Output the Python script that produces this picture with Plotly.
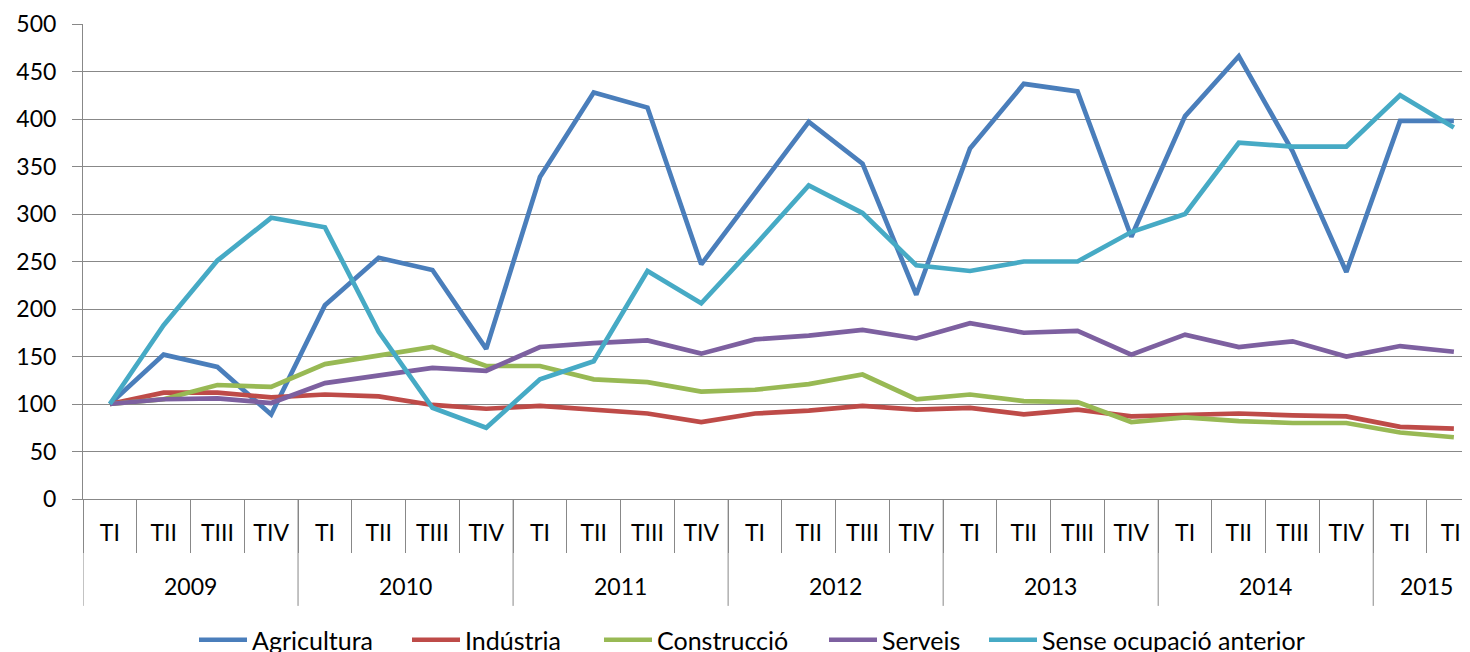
import plotly.graph_objects as go

quarters = ["TI", "TII", "TIII", "TIV"] * 6 + ["TI", "TII"]
years = ["2009", "2010", "2011", "2012", "2013", "2014", "2015"]

agricultura = [100, 152, 139, 89, 204, 254, 241, 158, 339, 428, 412, 247, 322, 397, 353, 215,
               369, 437, 429, 276, 403, 466, 366, 239, 398, 398]
industria = [100, 112, 112, 107, 110, 108, 99, 95, 98, 94, 90, 81, 90, 93, 98, 94,
             96, 89, 94, 87, 88, 90, 88, 87, 76, 74]
construccio = [100, 105, 120, 118, 142, 151, 160, 140, 140, 126, 123, 113, 115, 121, 131, 105,
               110, 103, 102, 81, 86, 82, 80, 80, 70, 65]
serveis = [100, 105, 106, 101, 122, 130, 138, 135, 160, 164, 167, 153, 168, 172, 178, 169,
           185, 175, 177, 152, 173, 160, 166, 150, 161, 155]
sense = [100, 183, 251, 296, 286, 176, 96, 75, 126, 145, 240, 206, 267, 330, 301, 246,
         240, 250, 250, 281, 300, 375, 371, 371, 425, 391]

series = [
    ("Agricultura", agricultura, "#4A7EBB"),
    ("Indústria", industria, "#BE4B48"),
    ("Construcció", construccio, "#98B954"),
    ("Serveis", serveis, "#7D60A0"),
    ("Sense ocupació anterior", sense, "#46AAC5"),
]
# left edge (page px) of each legend line sample
legend_starts = [204, 417, 609, 834, 994]

FONT = "Lato"
GRID = "#888888"
TICK_SIZE = 23
PLOT_L, PLOT_R, PLOT_T, PLOT_B = 83, 1470, 24, 499   # page pixels
BODY = 8  # default page margin of the html body
idx = list(range(len(quarters)))
plot_w = PLOT_R - PLOT_L
plot_h = PLOT_B - PLOT_T

fig = go.Figure()
legends = {}
for n, (name, vals, col) in enumerate(series):
    lg = "legend" if n == 0 else f"legend{n + 1}"
    fig.add_trace(go.Scatter(x=idx, y=vals, mode="lines", name=name, legend=lg,
                             line=dict(color=col, width=4.7)))
    legends[lg] = dict(orientation="h", x=(legend_starts[n] - 10 - PLOT_L) / plot_w,
                       xanchor="left", y=(PLOT_B - 640) / plot_h, yanchor="middle",
                       font=dict(family=FONT, size=25, color="#000"),
                       itemwidth=48, bgcolor="rgba(0,0,0,0)")

# year separators and labels
shapes = []
for k in range(0, len(quarters), 4):
    shapes.append(dict(type="line", xref="x", yref="paper", x0=k - 0.5, x1=k - 0.5,
                       y0=0, y1=-0.225, line=dict(color=GRID, width=1)))
annotations = []
for j, yr in enumerate(years):
    start = j * 4
    end = min(start + 3, len(quarters) - 1)
    annotations.append(dict(x=(start + end) / 2, y=-0.183, xref="x", yref="paper",
                            text=yr, showarrow=False, yanchor="middle",
                            font=dict(family=FONT, size=TICK_SIZE, color="#000")))

fig.update_layout(
    width=1470, height=652,
    margin=dict(l=PLOT_L - BODY, r=1470 + BODY - PLOT_R, t=PLOT_T - BODY,
                b=652 + BODY - PLOT_B, autoexpand=False),
    paper_bgcolor="white", plot_bgcolor="white",
    font=dict(family=FONT, size=TICK_SIZE, color="#000"),
    shapes=shapes, annotations=annotations,
    showlegend=True,
    **legends,
)
fig.update_xaxes(
    automargin=False,
    range=[-0.5, 25.3], tickmode="array", tickvals=idx, ticktext=quarters,
    showgrid=False, zeroline=False, showline=True, linecolor=GRID, linewidth=1,
    ticks="", ticklabelstandoff=13,
    minor=dict(tickmode="array", tickvals=[i - 0.5 for i in range(len(quarters) + 1)],
               ticks="outside", ticklen=53, tickcolor=GRID, tickwidth=1, showgrid=False),
    tickfont=dict(family=FONT, size=TICK_SIZE, color="#000"),
)
fig.update_yaxes(
    automargin=False,
    range=[0, 500], tickmode="array", tickvals=list(range(0, 501, 50)),
    showgrid=True, gridcolor=GRID, gridwidth=1, zeroline=False,
    showline=True, linecolor=GRID, linewidth=1,
    ticks="outside", ticklen=10, tickcolor=GRID, ticklabelstandoff=11,
    tickfont=dict(family=FONT, size=TICK_SIZE, color="#000"),
)

fig.write_html("out.html")
